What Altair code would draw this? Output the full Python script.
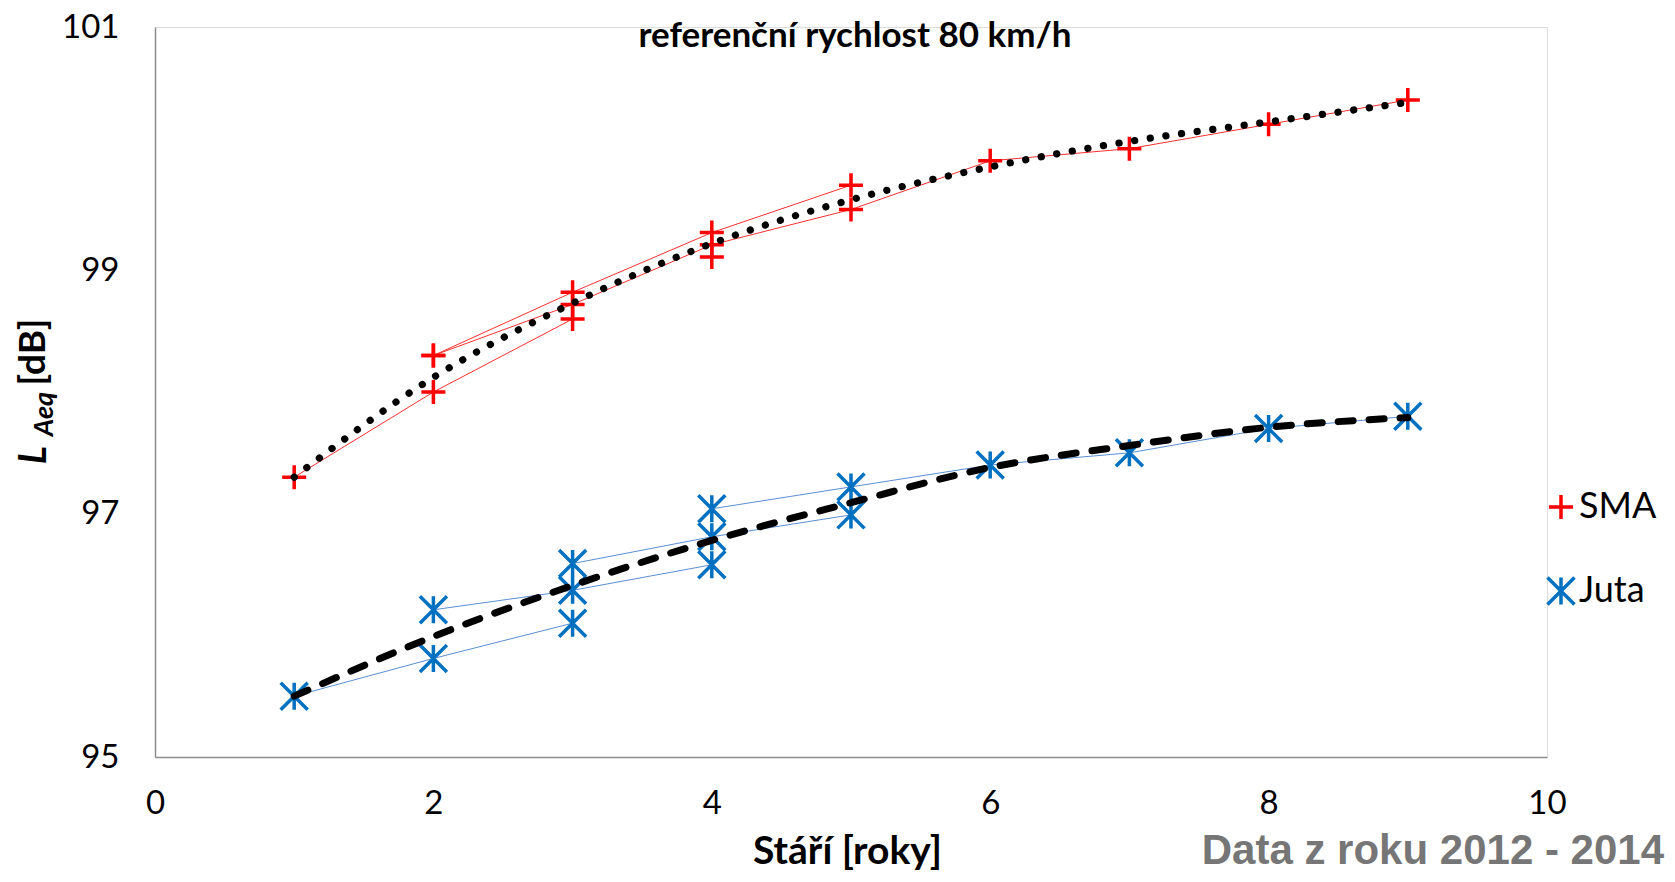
import altair as alt
import pandas as pd

# ---------------- data ----------------
series_names = ["SMA", "Juta"]

# SMA: age of surface [years], LAeq [dB], measured section (points of one section are joined)
sma_age = [1, 2, 3, 2, 3, 4, 5, 2, 3, 4, 5, 6, 7, 8, 9, 4]
sma_laeq = [97.3, 98.0, 98.6, 98.3, 98.82, 99.31, 99.7, 98.3, 98.72, 99.21, 99.5, 99.9, 100.0, 100.2, 100.4, 99.11]
sma_section = ["S1"] * 3 + ["S2"] * 4 + ["S3"] * 8 + ["S4"]

# Juta
juta_age = [1, 2, 3, 2, 3, 4, 3, 4, 5, 4, 5, 6, 7, 8, 9]
juta_laeq = [95.5, 95.81, 96.1, 96.21, 96.37, 96.58, 96.59, 96.81, 96.99, 97.04, 97.22, 97.4, 97.5, 97.7, 97.8]
juta_section = ["J1"] * 3 + ["J2"] * 3 + ["J3"] * 3 + ["J4"] * 6

# trend curves
trend_age = [1, 2, 3, 4, 5, 6, 7, 8, 9]
sma_trend = [97.3, 98.12, 98.73, 99.22, 99.58, 99.85, 100.06, 100.22, 100.38]
juta_trend = [95.5, 95.99, 96.41, 96.78, 97.09, 97.38, 97.56, 97.71, 97.79]

x_ticks = [0, 2, 4, 6, 8, 10]
y_ticks = [95, 97, 99, 101]

subtitle = "referenční rychlost 80 km/h"
x_title = "Stáří [roky]"
y_title_main = "L"
y_title_sub = "Aeq"
y_title_unit = "[dB]"
note = "Data z roku 2012 - 2014"

# ---------------- tables ----------------
pts = pd.concat([
    pd.DataFrame({"age": sma_age, "laeq": sma_laeq, "section": sma_section, "series": "SMA"}),
    pd.DataFrame({"age": juta_age, "laeq": juta_laeq, "section": juta_section, "series": "Juta"}),
], ignore_index=True)

trend = pd.concat([
    pd.DataFrame({"age": trend_age, "laeq": sma_trend, "series": "SMA"}),
    pd.DataFrame({"age": trend_age, "laeq": juta_trend, "series": "Juta"}),
], ignore_index=True)

W, H = 1392, 730
FONT = "Lato"

xs = alt.Scale(domain=[0, 10], nice=False, zero=False)
ys = alt.Scale(domain=[95, 101], nice=False, zero=False)

x_enc = alt.X("age:Q", scale=xs, axis=alt.Axis(
    values=x_ticks, format="d", title=x_title, grid=False, ticks=False, labelFlush=False,
    labelFont=FONT, labelFontSize=33, labelColor="black", labelPadding=30,
    domainColor="#8C8C8C", domainWidth=1.5,
    titleFont=FONT, titleFontSize=39, titleFontWeight="bold", titleColor="black",
    titleBaseline="alphabetic", titleY=106, titleX=W / 2 - 4,
))
y_enc = alt.Y("laeq:Q", scale=ys, axis=alt.Axis(
    values=y_ticks, format="d", title=None, grid=False, ticks=False, labelFlush=False,
    labelFont=FONT, labelFontSize=33, labelColor="black", labelPadding=36,
    domainColor="#8C8C8C", domainWidth=1.5,
))
x_plain = alt.X("age:Q", scale=xs)
y_plain = alt.Y("laeq:Q", scale=ys)

PLUS = "M-0.89,0L0.89,0M0,-0.89L0,0.89"
STAR = "M0,-1L0,1M-1,-1L1,1M-1,1L1,-1"

base = alt.Chart(pts)

sma_lines = base.transform_filter(alt.datum.series == "SMA").mark_line(
    color="#FF3030", strokeWidth=1
).encode(x=x_enc, y=y_enc, detail="section:N", order="age:Q")

juta_lines = base.transform_filter(alt.datum.series == "Juta").mark_line(
    color="#5A8FD2", strokeWidth=1
).encode(x=x_plain, y=y_plain, detail="section:N", order="age:Q")

legend = alt.Legend(title=None, orient="none", legendX=1388, legendY=462,
                    labelFont=FONT, labelFontSize=36, labelColor="black",
                    symbolSize=729, symbolStrokeWidth=3.5, rowPadding=43,
                    labelOffset=0, padding=0)

markers = base.mark_point(filled=False, strokeWidth=3.5, size=729, opacity=1).encode(
    x=x_plain, y=y_plain,
    shape=alt.Shape("series:N", scale=alt.Scale(domain=series_names, range=[PLUS, STAR]), legend=legend),
    color=alt.Color("series:N", scale=alt.Scale(domain=series_names, range=["#FF0000", "#0070C0"]), legend=legend),
)

tbase = alt.Chart(trend)
sma_trend_line = tbase.transform_filter(alt.datum.series == "SMA").mark_line(
    color="black", strokeWidth=7.2, strokeDash=[0.1, 15.7], strokeCap="round", interpolate="monotone"
).encode(x=x_plain, y=y_plain)
juta_trend_line = tbase.transform_filter(alt.datum.series == "Juta").mark_line(
    color="black", strokeWidth=7, strokeDash=[15, 16], strokeCap="round", interpolate="monotone"
).encode(x=x_plain, y=y_plain)


def label(text, x, y, size, weight="bold", style="normal", angle=0, font=FONT, color="black", align="center", baseline="middle"):
    return alt.Chart(pd.DataFrame({"t": [text]})).mark_text(
        font=font, fontSize=size, fontWeight=weight, fontStyle=style, angle=angle,
        color=color, align=align, baseline=baseline
    ).encode(text="t:N", x=alt.value(x), y=alt.value(y))


texts = [
    label(subtitle, 700, 9, 35),
    label(y_title_unit, -121, 325, 37, angle=270),
    label(y_title_main, -120, 428, 38, style="italic", angle=270),
    label(y_title_sub, -110, 387, 27, style="italic", angle=270),
    label(note, 1509, 837, 42, font="Liberation Sans", color="#767676", align="right", baseline="alphabetic"),
]

chart = alt.layer(
    sma_lines, juta_lines, markers, sma_trend_line, juta_trend_line, *texts
).properties(
    width=W, height=H,
    padding={"left": 147, "top": 19, "right": 120, "bottom": 117},
    autosize=alt.AutoSizeParams(type="none"),
).configure_view(stroke=None).configure(background="white")

chart.save("out.html", embed_options={"renderer": "svg", "actions": False})
